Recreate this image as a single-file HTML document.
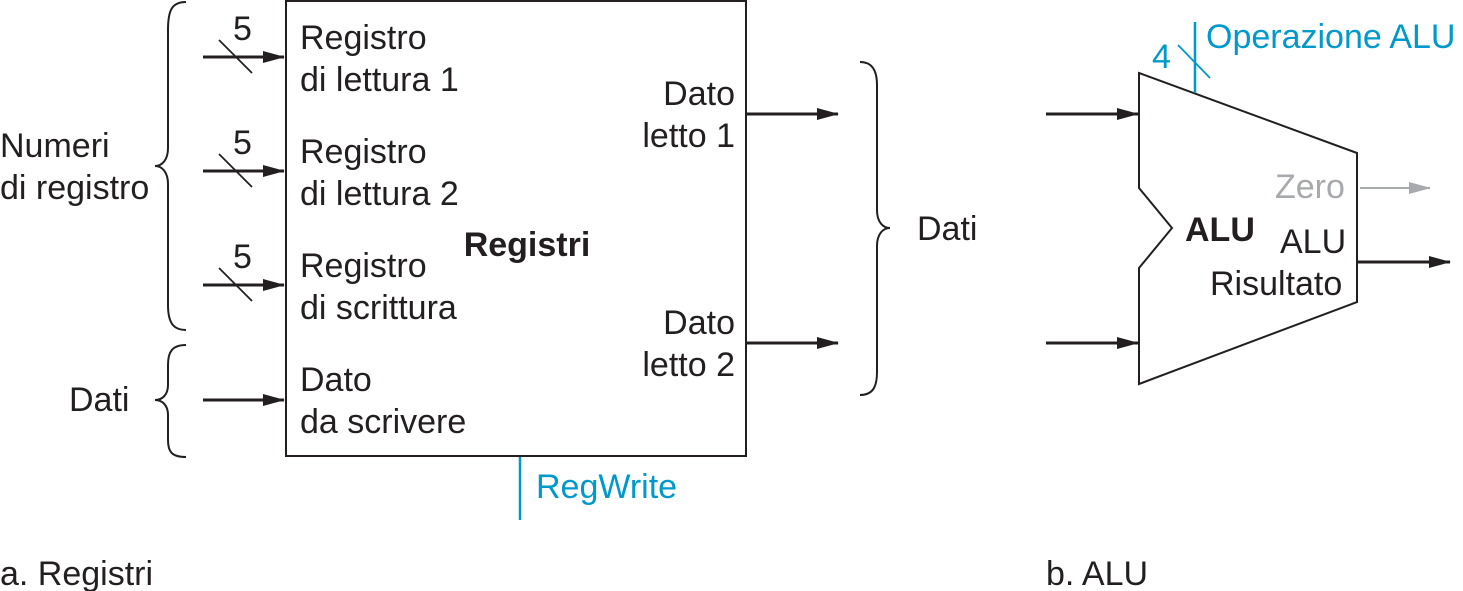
<!DOCTYPE html>
<html><head><meta charset="utf-8"><style>
html,body{margin:0;padding:0;background:#fff;}
svg{display:block;}
text{font-family:"Liberation Sans",Arial,sans-serif;font-size:34px;fill:#231f20;}
</style></head><body>
<svg width="1463" height="591" viewBox="0 0 1463 591" xmlns="http://www.w3.org/2000/svg">
<defs>
<marker id="a" markerWidth="24" markerHeight="14" refX="21" refY="7" orient="auto" markerUnits="userSpaceOnUse"><path d="M0,1 L22,7 L0,13 Z" fill="#231f20"/></marker>
<marker id="ag" markerWidth="24" markerHeight="14" refX="21" refY="7" orient="auto" markerUnits="userSpaceOnUse"><path d="M0,1 L22,7 L0,13 Z" fill="#a7a9ac"/></marker>
</defs>
<g stroke="#231f20" stroke-width="2" fill="none">
<rect x="286" y="1" width="460" height="455"/>
<path d="M186,2 C172,2 168,10 168,30 L168,148 C168,160 162,166 155,166 C162,166 168,172 168,184 L168,305 C168,325 175,330 186,330"/>
<path d="M186,345 C172,345 168,352 168,365 L168,385 C168,395 162,400 155,400 C162,400 168,405 168,415 L168,440 C168,452 172,457 186,457"/>
<path d="M860,62 C872,62 877,70 877,85 L877,210 C877,222 883,228 890,228 C883,228 877,234 877,246 L877,372 C877,388 872,395 860,395"/>
<path d="M1139,73 L1357,153 L1357,302 L1139,384 L1139,268 L1172,228 L1139,188 Z"/>
</g>
<g stroke="#231f20" stroke-width="3" fill="none" marker-end="url(#a)">
<line x1="203" y1="57" x2="284" y2="57"/>
<line x1="203" y1="171" x2="284" y2="171"/>
<line x1="203" y1="285" x2="284" y2="285"/>
<line x1="203" y1="400" x2="284" y2="400"/>
<line x1="747" y1="114" x2="838" y2="114"/>
<line x1="747" y1="343" x2="838" y2="343"/>
<line x1="1046" y1="114" x2="1138" y2="114"/>
<line x1="1046" y1="343" x2="1138" y2="343"/>
<line x1="1358" y1="262" x2="1450" y2="262"/>
</g>
<line x1="1360" y1="188" x2="1430" y2="188" stroke="#a7a9ac" stroke-width="2" marker-end="url(#ag)"/>
<g stroke="#231f20" stroke-width="1.8">
<line x1="219" y1="40" x2="252" y2="73"/>
<line x1="219" y1="154" x2="252" y2="187"/>
<line x1="219" y1="268" x2="252" y2="301"/>
</g>
<g stroke="#0099cc" stroke-width="2.5">
<line x1="520" y1="457" x2="520" y2="520"/>
<line x1="1195" y1="22" x2="1195" y2="93"/>
<line x1="1178" y1="45" x2="1210" y2="78" stroke-width="1.8"/>
</g>
<text x="233" y="40">5</text>
<text x="233" y="154">5</text>
<text x="233" y="268">5</text>
<text x="300" y="49">Registro</text>
<text x="300" y="91">di lettura 1</text>
<text x="300" y="163">Registro</text>
<text x="300" y="205">di lettura 2</text>
<text x="300" y="277">Registro</text>
<text x="300" y="319">di scrittura</text>
<text x="300" y="391">Dato</text>
<text x="300" y="433">da scrivere</text>
<text x="527" y="256" text-anchor="middle" font-weight="bold">Registri</text>
<text x="735" y="105" text-anchor="end">Dato</text>
<text x="735" y="147" text-anchor="end">letto 1</text>
<text x="735" y="334" text-anchor="end">Dato</text>
<text x="735" y="376" text-anchor="end">letto 2</text>
<text x="917" y="240">Dati</text>
<text x="0" y="157">Numeri</text>
<text x="0" y="199">di registro</text>
<text x="69" y="411">Dati</text>
<text x="536" y="498" style="fill:#0099cc">RegWrite</text>
<text x="0" y="585">a. Registri</text>
<text x="1046" y="585">b. ALU</text>
<text x="1152" y="68" style="fill:#0099cc">4</text>
<text x="1206" y="48" style="fill:#0099cc">Operazione ALU</text>
<text x="1275" y="198" style="fill:#a7a9ac">Zero</text>
<text x="1185" y="241" font-weight="bold">ALU</text>
<text x="1280" y="253">ALU</text>
<text x="1210" y="295">Risultato</text>
</svg>
</body></html>
